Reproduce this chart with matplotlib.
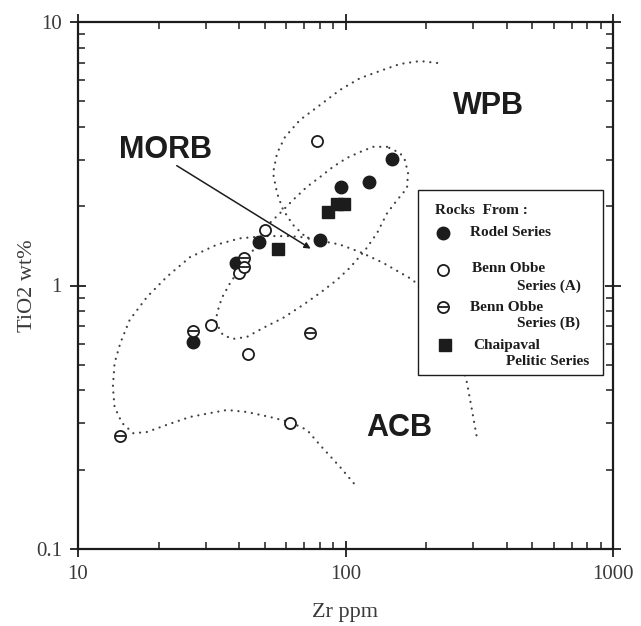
import numpy as np
import matplotlib
matplotlib.use('Agg')
import matplotlib.pyplot as plt
from matplotlib.patches import Rectangle
from matplotlib.ticker import NullFormatter, LogLocator

rodel_zr = [149, 122, 96, 80, 47.5, 38.8, 26.9]
rodel_ti = [3.02, 2.47, 2.36, 1.49, 1.46, 1.22, 0.61]

bennA_zr = [78, 50.2, 40.0, 31.3, 43.2, 62.1]
bennA_ti = [3.54, 1.62, 1.12, 0.71, 0.55, 0.302]

bennB_zr = [41.7, 41.7, 27.0, 73.6, 14.3]
bennB_ti = [1.27, 1.18, 0.67, 0.66, 0.268]

chai_zr = [56.1, 86.0, 92.9, 98.7]
chai_ti = [1.38, 1.90, 2.04, 2.04]

# Limites dos campos (linhas pontilhadas)
wpb_zr = [220, 190, 160, 134.6, 113.3, 95.3, 80.3, 67.6, 59.4, 55.5, 53.6, 55.5, 58.4,
          63.6, 71.8, 80.3, 95.3, 113.3, 138, 178.7, 225.5, 263.4, 284.6, 297, 310]
wpb_ti = [6.99, 7.11, 6.93, 6.52, 6.12, 5.52, 4.84, 4.25, 3.66, 3.18, 2.67, 2.24, 1.94,
          1.70, 1.51, 1.48, 1.43, 1.34, 1.22, 1.05, 0.807, 0.569, 0.427, 0.337, 0.264]

acb_zr = [76.9, 62.1, 50.0, 40.3, 33.1, 26.2, 21.5, 18.1, 15.6, 14.4, 13.7, 13.5, 13.7,
          14.6, 16.1, 18.1, 21.5, 26.2, 31.2, 36.1, 42.8, 52.2, 62.1, 71.8, 80.3, 95.3, 111.4]
acb_ti = [1.51, 1.54, 1.54, 1.51, 1.43, 1.28, 1.08, 0.904, 0.740, 0.605, 0.508, 0.412, 0.346,
          0.301, 0.275, 0.278, 0.296, 0.317, 0.328, 0.337, 0.331, 0.317, 0.303, 0.283, 0.248,
          0.205, 0.170]

morb_zr = [143, 126.7, 113.3, 101.3, 89.8, 80.3, 71.8, 63.6, 56.9, 52.2, 49.2, 47.1, 44.7,
           40.3, 37.0, 34.5, 33.1, 32.8, 34.8, 37.9, 42.8, 49.2, 58.4, 69.3, 80.3, 92.9,
           104, 118.3, 131.2, 143, 155.9, 169.8, 171.3, 166.8, 160, 143]
morb_ti = [3.36, 3.36, 3.21, 3.05, 2.82, 2.58, 2.37, 2.11, 1.88, 1.73, 1.61, 1.46, 1.34,
           1.16, 1.02, 0.897, 0.787, 0.722, 0.649, 0.627, 0.638, 0.690, 0.753, 0.843, 0.937,
           1.05, 1.17, 1.36, 1.58, 1.88, 2.11, 2.34, 2.67, 2.99, 3.18, 3.36]

# Rótulos dos campos e seta do MORB
field_names = ['WPB', 'ACB', 'MORB']
field_zr = [341, 158.5, 21.3]
field_ti = [4.80, 0.289, 3.27]
arrow_start = (23.4, 2.85)
arrow_end = (74.1, 1.38)

ink = '#1c1c1c'
grey = '#3a3a3a'
serif = 'Liberation Serif'
sans = 'Liberation Sans'

fig = plt.figure(figsize=(6.41, 6.26), dpi=100)
ax = fig.add_axes([78 / 641, 1 - 549 / 626, 535 / 641, 527 / 626])
ax.set_xscale('log')
ax.set_yscale('log')
ax.set_xlim(10, 1000)
ax.set_ylim(0.1, 10)

# pontos redondos pequenos, como no original
dot = dict(color='#404040', lw=1.6, linestyle=(0, (0.05, 3.0)),
           dash_capstyle='round', solid_capstyle='round')
ax.plot(wpb_zr, wpb_ti, **dot)
ax.plot(acb_zr, acb_ti, **dot)
ax.plot(morb_zr, morb_ti, **dot)

# Pontos
ax.plot(rodel_zr, rodel_ti, 'o', ms=9, color=ink, zorder=5)
ax.plot(bennA_zr, bennA_ti, 'o', ms=8, mfc='white', mec=ink, mew=1.3, zorder=5)
ax.plot(bennB_zr, bennB_ti, 'o', ms=8, mfc='white', mec=ink, mew=1.3, zorder=6)
ax.plot(bennB_zr, bennB_ti, '_', ms=7, mec=ink, mew=1.3, zorder=7)
ax.plot(chai_zr, chai_ti, 's', ms=9, color=ink, zorder=5)

for name, zx, ty in zip(field_names, field_zr, field_ti):
    ax.text(zx, ty, name, family=sans, fontweight='bold', fontsize=22,
            color=ink, ha='center', va='center')

ax.annotate('', xy=arrow_end, xytext=arrow_start,
            arrowprops=dict(arrowstyle='-|>', color=ink, lw=1.1,
                            mutation_scale=9, shrinkA=0, shrinkB=0))

# Legenda desenhada à mão
ax.add_patch(Rectangle((0.636, 0.330), 0.345, 0.351, transform=ax.transAxes,
                       facecolor='white', edgecolor=ink, lw=1.0, zorder=8))
lt = dict(transform=ax.transAxes, family=serif, fontweight='bold', fontsize=11,
          color=ink, va='center', ha='left', zorder=9)
ax.text(0.667, 0.642, 'Rocks  From :', **lt)
ax.plot(0.682, 0.600, 'o', ms=9, color=ink, transform=ax.transAxes, zorder=9)
ax.text(0.733, 0.600, 'Rodel Series', **lt)
ax.plot(0.682, 0.529, 'o', ms=8, mfc='white', mec=ink, mew=1.3, transform=ax.transAxes, zorder=9)
ax.text(0.736, 0.533, 'Benn Obbe', **lt)
ax.text(0.821, 0.499, 'Series (A)', **lt)
ax.plot(0.682, 0.459, 'o', ms=8, mfc='white', mec=ink, mew=1.3, transform=ax.transAxes, zorder=9)
ax.plot(0.682, 0.459, '_', ms=7, mec=ink, mew=1.3, transform=ax.transAxes, zorder=10)
ax.text(0.733, 0.459, 'Benn Obbe', **lt)
ax.text(0.821, 0.429, 'Series (B)', **lt)
ax.plot(0.686, 0.387, 's', ms=9, color=ink, transform=ax.transAxes, zorder=9)
ax.text(0.738, 0.387, 'Chaipaval', **lt)
ax.text(0.800, 0.355, 'Pelitic Series', **lt)

# Eixos
for s in ax.spines.values():
    s.set_linewidth(1.6)
    s.set_color(ink)

ax.set_xticks([10, 100, 1000])
ax.set_xticklabels(['10', '100', '1000'])
ax.set_yticks([0.1, 1, 10])
ax.set_yticklabels(['0.1', '1', '10'])
ax.xaxis.set_minor_locator(LogLocator(base=10, subs=np.arange(2, 10)))
ax.yaxis.set_minor_locator(LogLocator(base=10, subs=np.arange(2, 10)))
ax.xaxis.set_minor_formatter(NullFormatter())
ax.yaxis.set_minor_formatter(NullFormatter())
ax.tick_params(which='both', top=True, right=True, color=ink)
ax.tick_params(which='major', direction='inout', length=11, width=1.3,
               labelsize=15, labelcolor=grey, pad=6)
ax.tick_params(which='minor', direction='in', length=5, width=1.1)
for lab in ax.get_xticklabels() + ax.get_yticklabels():
    lab.set_family(serif)

ax.set_xlabel('Zr ppm', family=serif, fontsize=16, color=grey, labelpad=14)
ax.set_ylabel('TiO2 wt%', family=serif, fontsize=16, color=grey, labelpad=-1)

fig.savefig('out.png', dpi=100, facecolor='white')
